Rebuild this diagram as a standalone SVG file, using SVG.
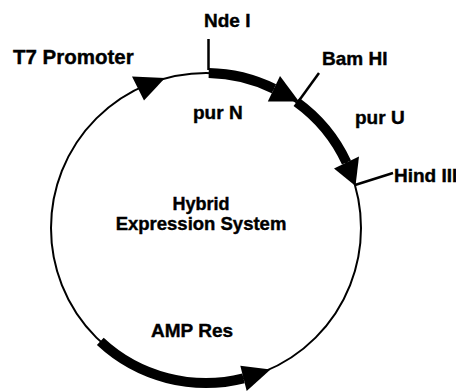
<svg xmlns="http://www.w3.org/2000/svg" width="456" height="391" viewBox="0 0 456 391">
<style>
.lbl{font-family:"Liberation Sans",Arial,Helvetica,sans-serif;font-weight:bold;font-size:19px;fill:#000;stroke:#000;stroke-width:0.4}
.thin{fill:none;stroke:#000;stroke-width:2}
.thick{fill:none;stroke:#000;stroke-width:10;stroke-linecap:butt}
.tick{stroke:#000;stroke-width:2.5;fill:none}
.head{fill:#000}
</style>
<rect width="456" height="391" fill="#fff"/>
<g id="backbone">
<circle class="thin" cx="206" cy="228" r="155"/>
</g>
<g id="purN">
<path class="thick" d="M 208.7 73.0 A 155 155 0 0 1 273.9 88.7"/>
<polygon class="head" points="280.0,76.0 267.8,101.4 299.0,101.5"/>
<text class="lbl" x="193" y="119">pur N</text>
</g>
<g id="purU">
<path class="thick" d="M 296.5 102.0 A 155 155 0 0 1 346.5 162.5"/>
<polygon class="head" points="359.0,156.5 334.0,168.5 355.5,186.0"/>
<text class="lbl" x="355" y="124">pur U</text>
</g>
<g id="ampRes">
<path class="thick" d="M 100.3 341.4 A 155 155 0 0 0 243.5 378.4"/>
<polygon class="head" points="246.7,391.0 240.3,365.8 270.5,369.6"/>
<text class="lbl" x="151" y="337">AMP Res</text>
</g>
<g id="t7">
<polygon class="head" points="132.0,76.5 144.0,100.5 165.0,78.0"/>
<text class="lbl" x="13" y="64" style="font-size:20.5px">T7 Promoter</text>
</g>
<g id="ndeI">
<line class="tick" x1="208.5" y1="39" x2="208.5" y2="70"/>
<text class="lbl" x="204" y="27">Nde I</text>
</g>
<g id="bamHI">
<line class="tick" x1="298" y1="102" x2="319" y2="73"/>
<text class="lbl" x="322" y="65">Bam HI</text>
</g>
<g id="hindIII">
<line class="tick" x1="355" y1="185" x2="393" y2="173"/>
<text class="lbl" x="394" y="182">Hind III</text>
</g>
<g id="center">
<text class="lbl" x="201" y="210" text-anchor="middle" style="font-size:18px">Hybrid</text>
<text class="lbl" x="201" y="230" text-anchor="middle" style="font-size:18.5px">Expression System</text>
</g>
</svg>
